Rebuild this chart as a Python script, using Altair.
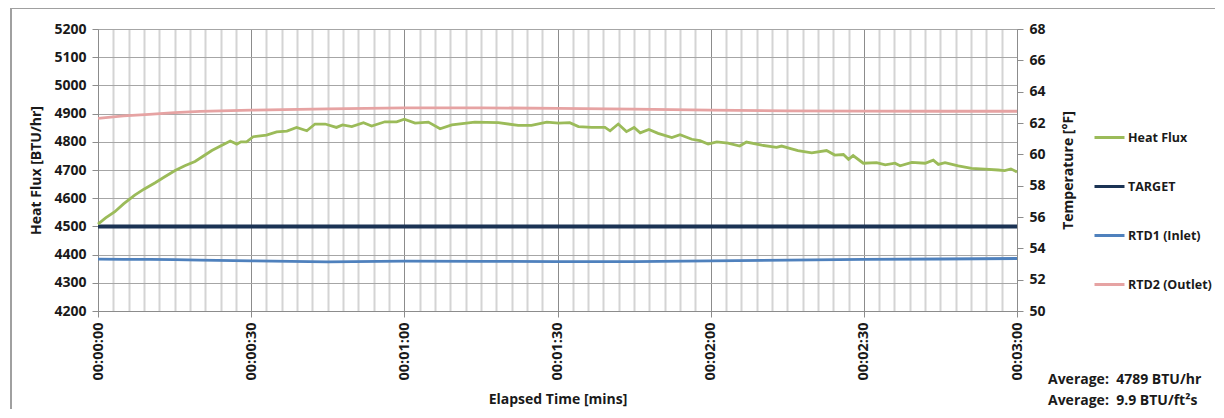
import altair as alt
import pandas as pd
import json

# ---------------- data ----------------
HF_TIME = [0, 1.5, 3.3, 5, 7.2, 9, 11.2, 13, 15.1, 17, 19, 20.5, 22.3, 24, 25.9, 27.2, 28, 29.1,
           30.4, 33, 35, 37, 38.9, 40.9, 42.5, 44.5, 46.7, 47.9, 49.7, 52, 53.6, 56.2, 58.5, 60,
           62.1, 64.7, 67, 69.3, 73.8, 78.4, 82.3, 84.9, 87.9, 90.2, 92.4, 94.1, 96.7, 99.3, 100.3,
           101.9, 103.5, 105, 106.2, 107.9, 109.7, 112.4, 114, 116.3, 117.9, 119.5, 121.2, 123.4,
           125.7, 127, 130, 132.9, 133.9, 135.5, 137.1, 139.8, 142.7, 144.3, 146, 147, 147.9, 149.9,
           152.5, 154.2, 156.1, 157.1, 159.4, 162, 163.6, 164.6, 165.9, 168.5, 171.1, 173.7, 176.3,
           177.6, 178.8, 180]
HF_VALUE = [4508, 4530, 4552, 4580, 4611, 4632, 4655, 4675, 4698, 4715, 4730, 4748, 4769, 4785, 4803,
            4792, 4800, 4800, 4818, 4824, 4835, 4838, 4851, 4839, 4863, 4863, 4851, 4860, 4854, 4868,
            4856, 4871, 4871, 4880, 4866, 4870, 4846, 4860, 4870, 4868, 4858, 4858, 4870, 4866, 4868,
            4854, 4851, 4851, 4839, 4863, 4836, 4851, 4832, 4844, 4830, 4815, 4825, 4809, 4804, 4792,
            4800, 4795, 4785, 4799, 4788, 4780, 4785, 4777, 4769, 4761, 4769, 4753, 4755, 4738, 4751,
            4724, 4726, 4718, 4724, 4715, 4727, 4724, 4735, 4720, 4726, 4715, 4706, 4703, 4700, 4698,
            4704, 4693]

TARGET_TIME = [0, 180]
TARGET_VALUE = [4500, 4500]

RTD_TIME = [0, 5, 10, 15, 20, 30, 45, 60, 75, 90, 105, 120, 135, 150, 165, 180]
RTD1_VALUE = [53.31, 53.30, 53.29, 53.28, 53.25, 53.20, 53.14, 53.18, 53.17, 53.15, 53.15, 53.20,
              53.25, 53.30, 53.32, 53.35]
RTD2_VALUE = [62.30, 62.45, 62.55, 62.66, 62.74, 62.82, 62.90, 62.97, 62.97, 62.93, 62.88, 62.82,
              62.78, 62.76, 62.75, 62.75]

SERIES = ["Heat Flux", "TARGET", "RTD1 (Inlet)", "RTD2 (Outlet)"]
COLORS = ["#9BBB59", "#1B3354", "#4F81BD", "#E6A3A3"]

X_TICKS = [i * 3 for i in range(61)]
TIME_LABELS = ["00:00:00", "00:00:30", "00:01:00", "00:01:30", "00:02:00", "00:02:30", "00:03:00"]
LEFT_TICKS = [4200, 4300, 4400, 4500, 4600, 4700, 4800, 4900, 5000, 5100, 5200]
RIGHT_TICKS = [50, 52, 54, 56, 58, 60, 62, 64, 66, 68]

AVG_TEXT = "Average:\u00a0 4789 BTU/hr\nAverage:\u00a0 9.9 BTU/ft\u00b2s"

FONT = "Open Sans"

# ---------------- frames ----------------
hf_df = pd.DataFrame({"t": HF_TIME, "v": HF_VALUE, "series": SERIES[0]})
tg_df = pd.DataFrame({"t": TARGET_TIME, "v": TARGET_VALUE, "series": SERIES[1]})
r1_df = pd.DataFrame({"t": RTD_TIME, "v": RTD1_VALUE, "series": SERIES[2]})
r2_df = pd.DataFrame({"t": RTD_TIME, "v": RTD2_VALUE, "series": SERIES[3]})

color = alt.Color("series:N",
                  scale=alt.Scale(domain=SERIES, range=COLORS),
                  legend=alt.Legend(title=None))

label_expr = "datum.value % 30 == 0 ? " + json.dumps(TIME_LABELS) + "[round(datum.value / 30)] : ''"

x_enc = alt.X("t:Q",
              scale=alt.Scale(domain=[0, 180], nice=False, zero=False),
              axis=alt.Axis(values=X_TICKS, title="Elapsed Time [mins]",
                            labelExpr=label_expr, labelAngle=270, labelOverlap=False,
                            labelPadding=5, titlePadding=12, labelFontSize=14.5,
                            gridColor=alt.condition("datum.value % 30 == 0",
                                                    alt.value("#8C8C8C"), alt.value("#D4D4D4")),
                            gridWidth=alt.condition("datum.value % 30 == 0",
                                                    alt.value(1), alt.value(2)),
                            tickColor=alt.condition("datum.value % 30 == 0",
                                                    alt.value("#8C8C8C"), alt.value("transparent")),
                            tickSize=6, domainColor="#8C8C8C"))

left_y = alt.Y("v:Q",
               scale=alt.Scale(domain=[4200, 5200], nice=False, zero=False),
               axis=alt.Axis(values=LEFT_TICKS, format="d", title="Heat Flux [BTU/hr]", orient="left",
                             gridColor="#A6A6A6", gridWidth=1, tickSize=6, tickColor="#8C8C8C",
                             domainColor="#8C8C8C", labelPadding=6, titlePadding=10))

right_y = alt.Y("v:Q",
                scale=alt.Scale(domain=[50, 68], nice=False, zero=False),
                axis=alt.Axis(values=RIGHT_TICKS, format="d", title="Temperature [\u00b0F]",
                              orient="right", titleAngle=270, titleBaseline="top",
                              grid=False, tickSize=6, tickColor="#8C8C8C",
                              domainColor="#8C8C8C", labelPadding=6, titlePadding=16))

hf = alt.Chart(hf_df).mark_line(strokeWidth=2.8).encode(x=x_enc, y=left_y, color=color)
tg = alt.Chart(tg_df).mark_line(strokeWidth=4).encode(x=x_enc, y=left_y, color=color)
left = alt.layer(tg, hf)

r1 = alt.Chart(r1_df).mark_line(strokeWidth=2.8).encode(x=x_enc, y=right_y, color=color)
r2 = alt.Chart(r2_df).mark_line(strokeWidth=2.8).encode(x=x_enc, y=right_y, color=color)
right = alt.layer(r1, r2)

avg = alt.Chart(pd.DataFrame({"txt": [AVG_TEXT]})).mark_text(
    align="left", baseline="middle", lineBreak="\n", lineHeight=21,
    font=FONT, fontSize=14, fontWeight="bold", color="#1A1A1A"
).encode(x=alt.value(950), y=alt.value(351), text="txt:N")

frame_top = alt.Chart(pd.DataFrame({"a": [0]})).mark_rule(color="#A0A0A0", strokeWidth=2).encode(
    x=alt.value(-87), x2=alt.value(1125), y=alt.value(-21))
frame_left = alt.Chart(pd.DataFrame({"a": [0]})).mark_rule(color="#A0A0A0", strokeWidth=2).encode(
    x=alt.value(-87), y=alt.value(-21), y2=alt.value(400))

chart = alt.layer(left, right, avg, frame_top, frame_left).resolve_scale(
    y="independent"
).properties(
    width=919, height=282,
    autosize=alt.AutoSizeParams(type="none"),
    padding={"left": 90, "top": 21, "right": 198, "bottom": 98},
).configure_view(
    stroke=None
).configure_axis(
    labelFont=FONT, labelFontSize=14, labelFontWeight="bold", labelColor="#1A1A1A",
    titleFont=FONT, titleFontSize=14, titleFontWeight="bold", titleColor="#1A1A1A",
).configure_legend(
    orient="none", legendX=995, legendY=92,
    symbolType="stroke", symbolSize=900, symbolStrokeWidth=3,
    labelFont=FONT, labelFontSize=12.5, labelFontWeight="bold", labelColor="#1A1A1A",
    labelOffset=2, rowPadding=26, padding=0, labelLimit=200,
)

chart.save("out.html", embed_options={"renderer": "svg", "actions": False})
